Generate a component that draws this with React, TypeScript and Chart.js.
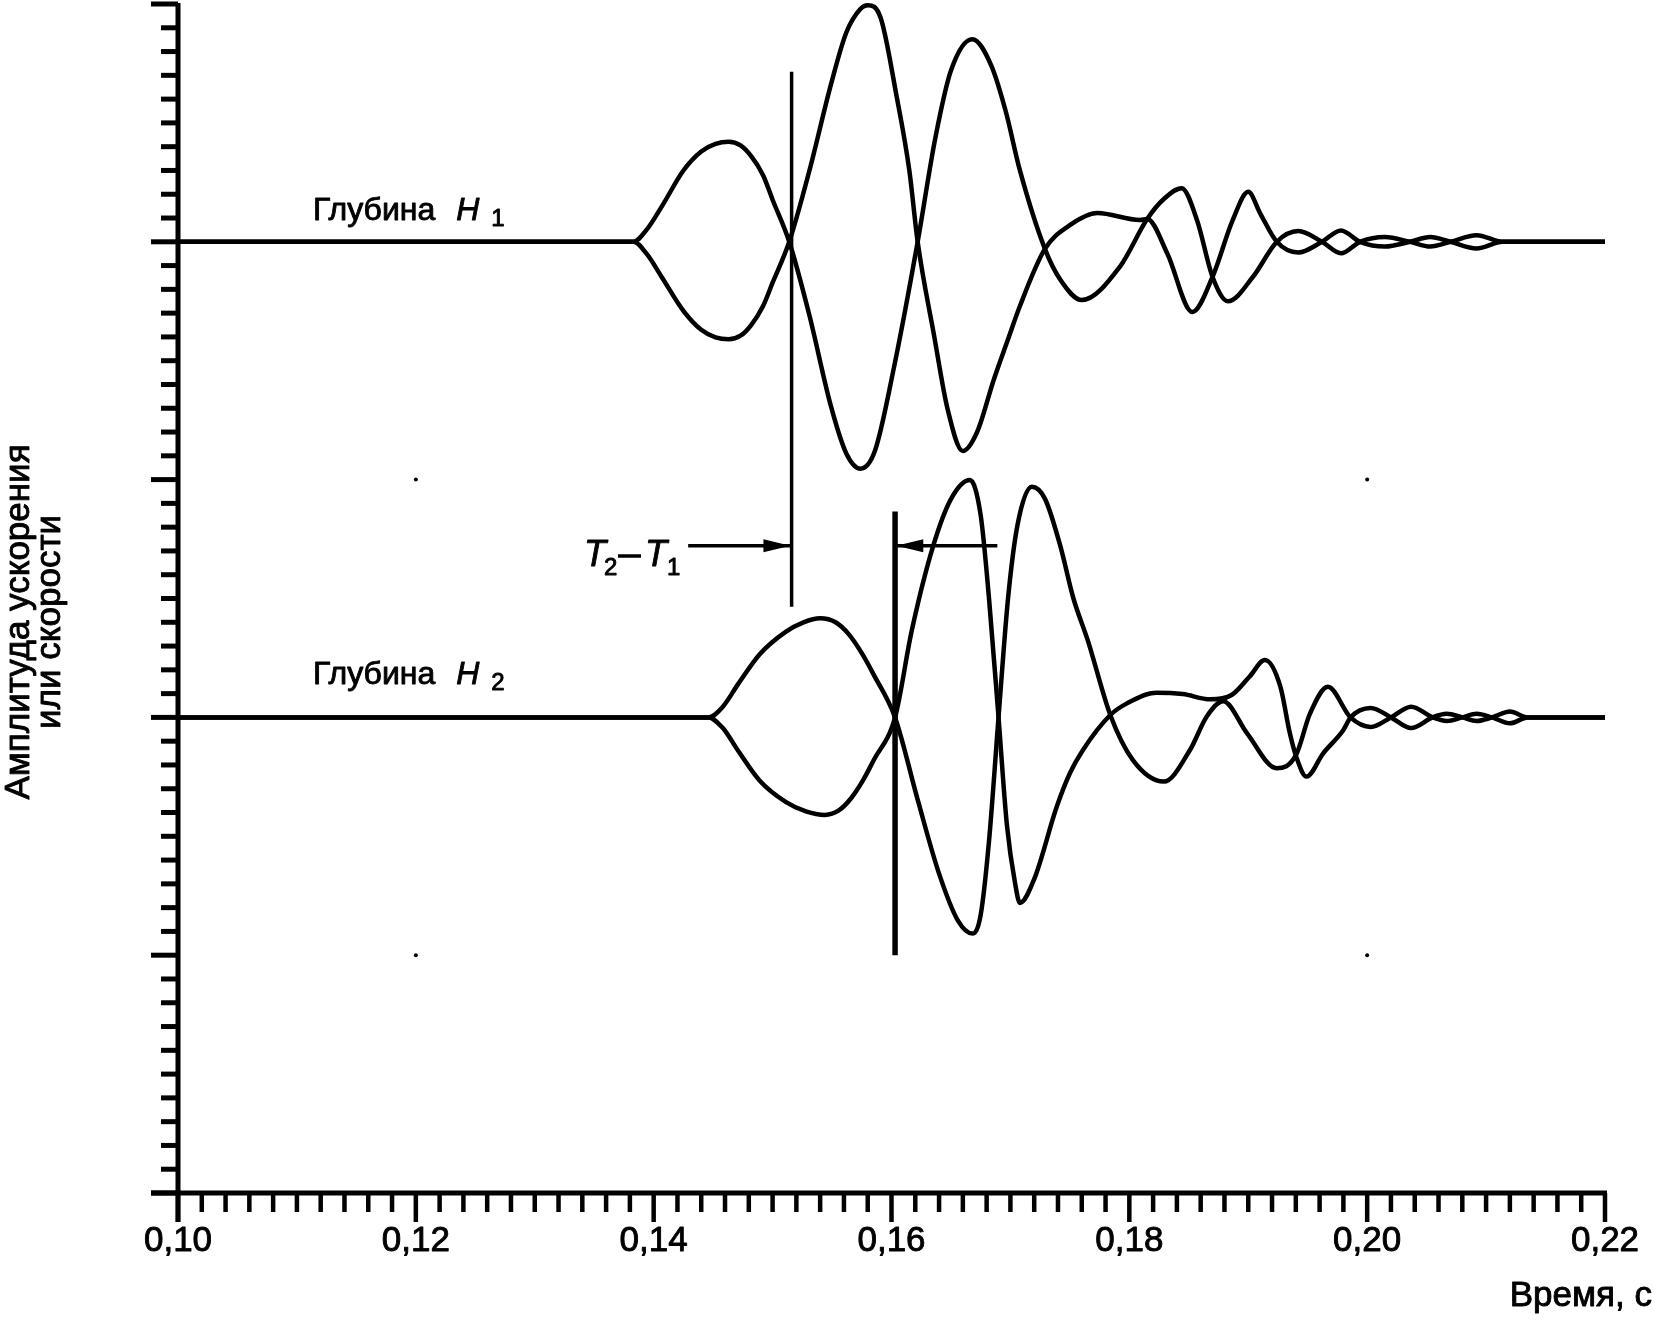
import { useEffect, useRef } from "react";
import { Chart, registerables } from "chart.js";

Chart.register(...registerables);

const W = 1654;
const H = 1321;

// axes
const X_MIN = 0.1;
const X_MAX = 0.22;
const Y_MIN = 0;
const Y_MAX = 5;
const X_MINOR_STEP = 0.002;
const X_MINOR_COUNT = 60;
const Y_MINOR_STEP = 0.1;
const Y_MINOR_COUNT = 50;
const xMajorTicks = [0.1, 0.12, 0.14, 0.16, 0.18, 0.2, 0.22];
const xTickLabels = ["0,10", "0,12", "0,14", "0,16", "0,18", "0,20", "0,22"];
const xTitle = "Время, с";
const yTitleLines = ["Амплитуда ускорения", "или скорости"];
const depthWord = "Глубина";

// baselines of the two traces
const H1_LEVEL = 4;
const H2_LEVEL = 2;

// depth H1: [time, amplitude relative to baseline]
const h1Up: [number, number][] = [
  [0.1, 0], [0.1383, 0], [0.1394, 0.05], [0.1407, 0.15], [0.1425, 0.3], [0.144, 0.38],
  [0.1452, 0.412], [0.1463, 0.421], [0.1473, 0.405], [0.1482, 0.36], [0.1492, 0.28], [0.15, 0.177],
  [0.1514, 0], [0.1531, -0.31], [0.1549, -0.69], [0.1562, -0.89], [0.1574, -0.954], [0.1586, -0.88],
  [0.1602, -0.53], [0.1622, 0], [0.1637, 0.44], [0.165, 0.72], [0.1668, 0.852], [0.1684, 0.74],
  [0.1696, 0.55], [0.1708, 0.3], [0.1729, -0.03], [0.1742, -0.16], [0.176, -0.245], [0.1792, -0.105],
  [0.1815, 0.096], [0.1829, 0.18], [0.1844, 0.225], [0.1857, 0.09], [0.187, -0.148], [0.1883, -0.25],
  [0.1904, -0.147], [0.1924, 0], [0.1942, 0.045], [0.1962, 0], [0.1978, -0.048], [0.1994, 0],
  [0.2015, 0.02], [0.2036, 0], [0.2053, -0.02], [0.207, 0], [0.2092, 0.028], [0.2114, 0], [0.22, 0],
];
const h1Down: [number, number][] = [
  [0.1, 0], [0.1383, 0], [0.1394, -0.05], [0.1407, -0.15], [0.1425, -0.29], [0.144, -0.37],
  [0.1452, -0.402], [0.1463, -0.41], [0.1473, -0.395], [0.1482, -0.35], [0.1492, -0.27], [0.15, -0.172],
  [0.1514, 0], [0.1531, 0.3], [0.1549, 0.66], [0.1562, 0.88], [0.1574, 0.98], [0.158, 0.995],
  [0.1591, 0.94], [0.1604, 0.62], [0.1615, 0.3], [0.1622, 0], [0.1636, -0.4], [0.1647, -0.7],
  [0.166, -0.88], [0.1672, -0.8], [0.1686, -0.58], [0.1698, -0.41], [0.1708, -0.27], [0.1729, -0.03],
  [0.175, 0.07], [0.1773, 0.121], [0.1809, 0.092], [0.1815, 0.096], [0.1832, -0.05], [0.1853, -0.295],
  [0.187, -0.147], [0.1887, 0.092], [0.19, 0.21], [0.191, 0.12], [0.1924, 0], [0.1942, -0.045],
  [0.1962, 0], [0.1978, 0.048], [0.1994, 0], [0.2015, -0.02], [0.2036, 0], [0.2053, 0.02],
  [0.207, 0], [0.2092, -0.028], [0.2114, 0], [0.22, 0],
];

// depth H2
const h2Up: [number, number][] = [
  [0.1, 0], [0.1446, 0], [0.1458, 0.044], [0.1471, 0.14], [0.1489, 0.265], [0.1511, 0.36],
  [0.1526, 0.4], [0.154, 0.417], [0.1553, 0.4], [0.1564, 0.35], [0.1575, 0.27], [0.1585, 0.18],
  [0.1603, 0], [0.1622, -0.346], [0.164, -0.657], [0.1656, -0.856], [0.1668, -0.909], [0.1675, -0.83],
  [0.1682, -0.52], [0.169, 0], [0.1698, 0.5], [0.1706, 0.81], [0.1718, 0.97], [0.1729, 0.92],
  [0.1742, 0.72], [0.1753, 0.5], [0.1765, 0.325], [0.1784, 0.01], [0.1803, -0.18], [0.1829, -0.27],
  [0.1851, -0.137], [0.1865, 0.003], [0.1879, 0.068], [0.1899, -0.067], [0.1924, -0.214], [0.194, -0.16],
  [0.1952, 0.017], [0.1967, 0.129], [0.1986, 0], [0.2003, -0.04], [0.202, 0], [0.2037, 0.045],
  [0.2055, 0], [0.2067, -0.015], [0.208, 0], [0.2092, 0.015], [0.2105, 0], [0.212, -0.025],
  [0.2135, 0], [0.22, 0],
];
const h2Down: [number, number][] = [
  [0.1, 0], [0.1446, 0], [0.1458, -0.044], [0.1471, -0.14], [0.1489, -0.265], [0.1511, -0.355],
  [0.1528, -0.395], [0.1544, -0.41], [0.1556, -0.39], [0.1566, -0.34], [0.1576, -0.265], [0.1585, -0.18],
  [0.1603, 0], [0.1617, 0.364], [0.1635, 0.72], [0.165, 0.918], [0.1666, 0.998], [0.1675, 0.85],
  [0.1682, 0.5], [0.169, 0], [0.1697, -0.45], [0.1704, -0.7], [0.1708, -0.78], [0.172, -0.68],
  [0.1739, -0.375], [0.175, -0.235], [0.1761, -0.137], [0.1784, 0.01], [0.1798, 0.059], [0.1823, 0.104],
  [0.1845, 0.098], [0.1868, 0.076], [0.1886, 0.094], [0.1901, 0.171], [0.1914, 0.241], [0.1927, 0.129],
  [0.1935, -0.067], [0.194, -0.16], [0.1949, -0.249], [0.1963, -0.151], [0.198, -0.053], [0.1986, 0],
  [0.2003, 0.04], [0.202, 0], [0.2037, -0.045], [0.2055, 0], [0.2067, 0.015], [0.208, 0],
  [0.2092, -0.015], [0.2105, 0], [0.212, 0.025], [0.2135, 0], [0.22, 0],
];

// markers (time, level)
const t1Line: [number, number][] = [[0.1516, 2.465], [0.1516, 4.715]];
const t2Line: [number, number][] = [[0.1603, 1.0], [0.1603, 2.866]];
const arrowToT1: [number, number][] = [[0.1429, 2.722], [0.1515, 2.722]];
const arrowToT2: [number, number][] = [[0.1689, 2.722], [0.1604, 2.722]];
const gridDots: [number, number][] = [[0.12, 3], [0.2, 3], [0.12, 1], [0.2, 1]];

const FONT = '"Liberation Sans", Arial, Helvetica, sans-serif';

const toPts = (arr: [number, number][], level: number) =>
  arr.map(([t, a]) => ({ x: t, y: level + a }));

const curve = (arr: [number, number][], level: number) => ({
  data: toPts(arr, level),
  borderColor: "#000",
  borderWidth: 4.5,
  pointRadius: 0,
  fill: false,
  cubicInterpolationMode: "monotone" as const,
  clip: false as any,
});

const straight = (arr: [number, number][], width: number) => ({
  data: toPts(arr, 0),
  borderColor: "#000",
  borderWidth: width,
  pointRadius: 0,
  fill: false,
  tension: 0,
  clip: false as any,
});

const decorPlugin = {
  id: "decor",
  afterDraw(chart: any) {
    const ctx: CanvasRenderingContext2D = chart.ctx;
    const xs = chart.scales.x;
    const ys = chart.scales.y;
    const x0 = xs.getPixelForValue(X_MIN);
    const x1 = xs.getPixelForValue(X_MAX);
    const y0 = ys.getPixelForValue(Y_MIN);
    const yTop = ys.getPixelForValue(Y_MAX);
    ctx.save();
    ctx.strokeStyle = "#000";
    ctx.fillStyle = "#000";
    ctx.lineCap = "butt";

    // axes lines
    ctx.lineWidth = 5;
    ctx.beginPath();
    ctx.moveTo(x0, yTop - 1);
    ctx.lineTo(x0, y0 + 29);
    ctx.stroke();
    ctx.beginPath();
    ctx.moveTo(x0 - 27, y0);
    ctx.lineTo(x1 + 2, y0);
    ctx.stroke();

    // y ticks
    for (let i = 0; i <= Y_MINOR_COUNT; i++) {
      const y = ys.getPixelForValue(Y_MIN + i * Y_MINOR_STEP);
      const len = i % 10 === 0 ? 27 : 17;
      ctx.beginPath();
      ctx.moveTo(x0 - len, y);
      ctx.lineTo(x0, y);
      ctx.stroke();
    }
    // x ticks
    ctx.lineWidth = 4.5;
    for (let i = 0; i <= X_MINOR_COUNT; i++) {
      const x = xs.getPixelForValue(X_MIN + i * X_MINOR_STEP);
      const len = i % 10 === 0 ? 29 : 19;
      ctx.beginPath();
      ctx.moveTo(x, y0);
      ctx.lineTo(x, y0 + len);
      ctx.stroke();
    }

    // text helper with slight emboldening
    ctx.lineWidth = 0.9;
    ctx.lineJoin = "round";
    const txt = (s: string, x: number, y: number) => {
      ctx.fillText(s, x, y);
      ctx.strokeText(s, x, y);
    };

    // x tick labels
    ctx.font = `35px ${FONT}`;
    ctx.textAlign = "center";
    ctx.textBaseline = "middle";
    xMajorTicks.forEach((v, i) => {
      txt(xTickLabels[i], xs.getPixelForValue(v), y0 + 48);
    });
    ctx.textAlign = "right";
    txt(xTitle, 1652, 1296);

    // y title
    ctx.font = `35px ${FONT}`;
    ctx.textAlign = "center";
    ctx.textBaseline = "middle";
    [19, 50].forEach((cx, i) => {
      ctx.save();
      ctx.translate(cx, 622);
      ctx.rotate(-Math.PI / 2);
      txt(yTitleLines[i], 0, 0);
      ctx.restore();
    });

    // depth labels
    const depth = (x: number, base: number, sub: string) => {
      ctx.textAlign = "left";
      ctx.textBaseline = "alphabetic";
      ctx.font = `32px ${FONT}`;
      txt(depthWord, x, base);
      const w1 = ctx.measureText(depthWord).width;
      ctx.font = `italic 32px ${FONT}`;
      const hx = x + w1 + 21;
      txt("H", hx, base);
      const w2 = ctx.measureText("H").width;
      ctx.font = `24px ${FONT}`;
      txt(sub, hx + w2 + 12, base + 6);
    };
    depth(313, 220, "1");
    depth(313, 684, "2");

    // T2-T1 label
    ctx.textAlign = "left";
    ctx.textBaseline = "alphabetic";
    ctx.font = `italic 36px ${FONT}`;
    txt("T", 584, 566);
    txt("T", 645, 566);
    ctx.font = `24px ${FONT}`;
    txt("2", 604, 575);
    txt("1", 667, 575);
    ctx.lineWidth = 3.5;
    ctx.beginPath();
    ctx.moveTo(618, 556);
    ctx.lineTo(641, 556);
    ctx.stroke();

    // arrow heads
    const head = (arr: [number, number][]) => {
      const sx = xs.getPixelForValue(arr[0][0]);
      const tx = xs.getPixelForValue(arr[1][0]);
      const ty = ys.getPixelForValue(arr[1][1]);
      const dir = tx > sx ? 1 : -1;
      ctx.beginPath();
      ctx.moveTo(tx, ty);
      ctx.lineTo(tx - dir * 27, ty - 6.5);
      ctx.lineTo(tx - dir * 27, ty + 6.5);
      ctx.closePath();
      ctx.fill();
    };
    head(arrowToT1);
    head(arrowToT2);

    ctx.restore();
  },
};

export default function App() {
  const ref = useRef<HTMLCanvasElement | null>(null);
  useEffect(() => {
    if (!ref.current) return;
    const chart = new Chart(ref.current, {
      type: "line",
      data: {
        datasets: [
          curve(h1Up, H1_LEVEL),
          curve(h1Down, H1_LEVEL),
          curve(h2Up, H2_LEVEL),
          curve(h2Down, H2_LEVEL),
          straight(t1Line, 3.5),
          straight(t2Line, 5.5),
          straight(arrowToT1, 3.5),
          straight(arrowToT2, 3.5),
          {
            data: gridDots.map(([x, y]) => ({ x, y })),
            showLine: false,
            pointRadius: 2,
            pointBackgroundColor: "#000",
            pointBorderWidth: 0,
            borderColor: "#000",
          } as any,
        ],
      },
      options: {
        animation: false,
        responsive: false,
        devicePixelRatio: 1,
        events: [],
        layout: { padding: { left: 178, right: 49, top: 4, bottom: 128 } },
        scales: {
          x: { type: "linear", min: X_MIN, max: X_MAX, display: false },
          y: { type: "linear", min: Y_MIN, max: Y_MAX, display: false },
        },
        plugins: { legend: { display: false }, tooltip: { enabled: false } },
      },
      plugins: [decorPlugin],
    });
    return () => chart.destroy();
  }, []);
  return (
    <div style={{ position: "fixed", left: 0, top: 0, width: W, height: H, background: "#fff" }}>
      <canvas ref={ref} width={W} height={H} style={{ display: "block", width: W, height: H }} />
    </div>
  );
}
